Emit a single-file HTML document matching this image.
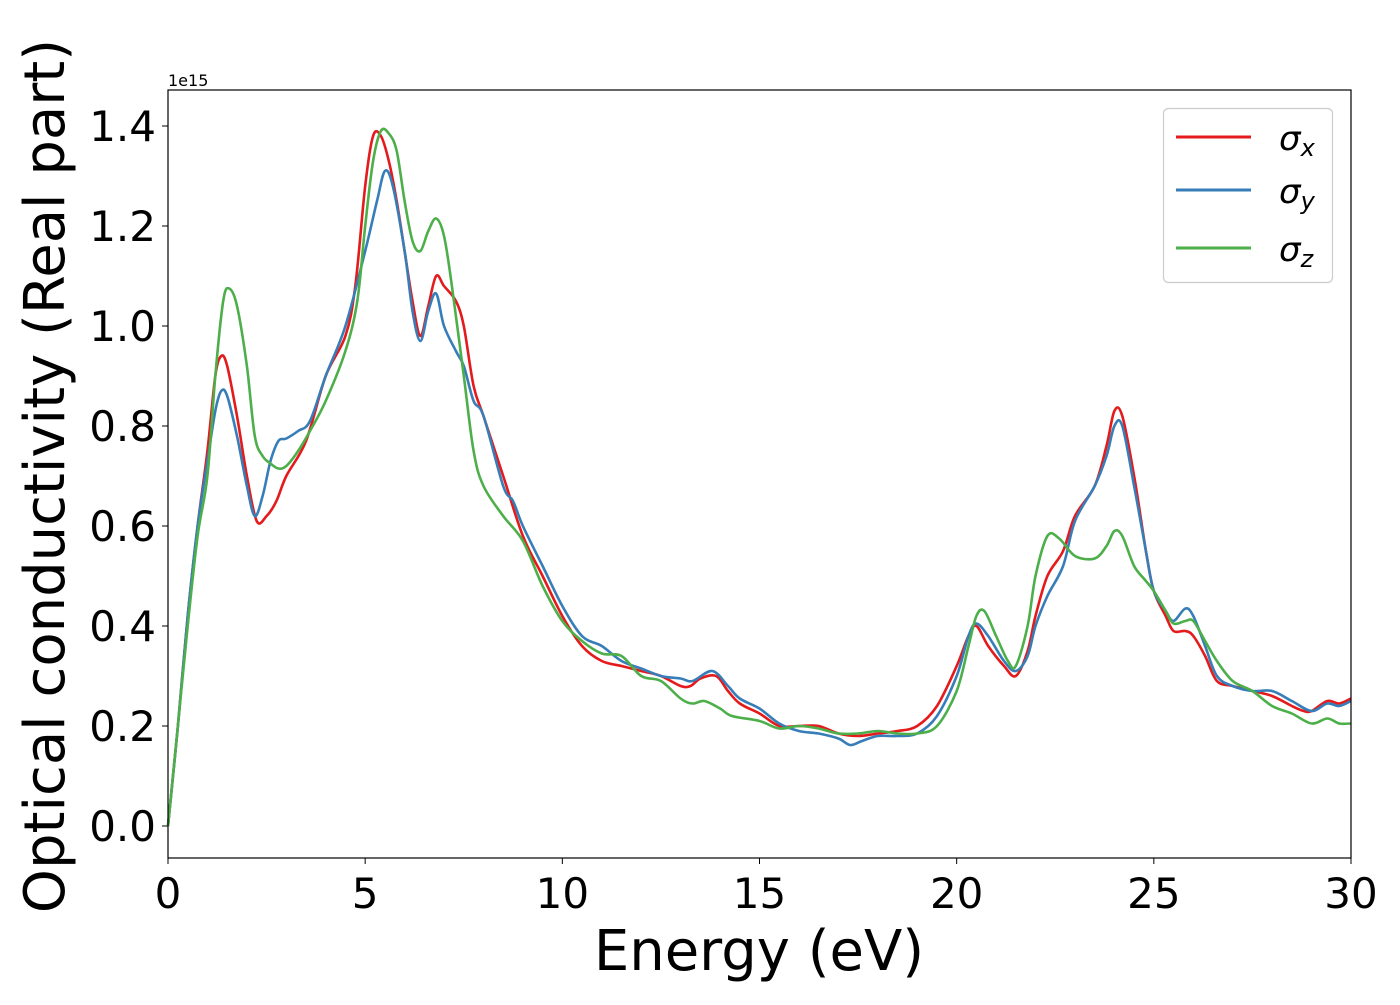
<!DOCTYPE html>
<html><head><meta charset="utf-8"><style>
html,body{margin:0;padding:0;background:#fff;}
svg text{font-family:"DejaVu Sans","Liberation Sans",sans-serif;}
</style></head><body>
<svg id="chart" width="1400" height="1000" xmlns="http://www.w3.org/2000/svg">
<g id="axes"></g>
<g id="series"></g>
<rect x="168" y="90" width="1183" height="768" fill="none" stroke="#000" stroke-width="1.2"/>
<text x="168" y="86" font-size="16">1e15</text>
<text x="759" y="970" font-size="56" text-anchor="middle">Energy (eV)</text>
<text transform="translate(64,476) rotate(-90)" font-size="56" text-anchor="middle">Optical conductivity (Real part)</text>
<g>
<rect x="1163.5" y="108.5" width="169" height="174" rx="5" fill="#fff" stroke="#ccc" stroke-width="1.2"/>
<line x1="1176" y1="137" x2="1251" y2="137" stroke="#e41a1c" stroke-width="3"/>
<text x="1279" y="150" font-size="34" font-style="italic">σ<tspan font-size="24" dy="6">x</tspan></text>
<line x1="1176" y1="190" x2="1251" y2="190" stroke="#377eb8" stroke-width="3"/>
<text x="1279" y="203" font-size="34" font-style="italic">σ<tspan font-size="24" dy="6">y</tspan></text>
<line x1="1176" y1="248" x2="1251" y2="248" stroke="#4daf4a" stroke-width="3"/>
<text x="1279" y="261" font-size="34" font-style="italic">σ<tspan font-size="24" dy="6">z</tspan></text>
</g>
</svg>
<script>
const xTicks=[0,5,10,15,20,25,30];
const yTicks=[0.0,0.2,0.4,0.6,0.8,1.0,1.2,1.4];
const xLabels=["0","5","10","15","20","25","30"];
const yLabels=["0.0","0.2","0.4","0.6","0.8","1.0","1.2","1.4"];
const sxE=[0,0.25,0.5,0.75,1.0,1.2,1.35,1.5,1.75,2.0,2.25,2.5,2.75,3.0,3.5,4.0,4.5,4.75,5.0,5.2,5.4,5.6,5.8,6.0,6.2,6.4,6.6,6.8,7.0,7.3,7.5,7.75,8.0,8.5,9.0,9.5,10.0,10.5,11.0,11.5,12.0,12.5,13.0,13.25,13.5,13.9,14.2,14.5,15.0,15.5,16.0,16.5,17.0,17.5,18.0,18.5,19.0,19.5,20.0,20.3,20.5,20.8,21.2,21.5,21.8,22.0,22.3,22.7,23.0,23.5,23.8,24.0,24.2,24.5,24.8,25.0,25.3,25.5,25.8,26.0,26.3,26.6,27.0,27.5,28.0,28.5,28.8,29.0,29.4,29.7,30];
const sxV=[0,0.2,0.42,0.6,0.75,0.9,0.94,0.92,0.82,0.7,0.61,0.62,0.65,0.7,0.77,0.9,0.98,1.08,1.28,1.38,1.38,1.33,1.25,1.15,1.05,0.98,1.04,1.10,1.08,1.05,1.0,0.88,0.82,0.7,0.58,0.5,0.42,0.36,0.33,0.32,0.31,0.3,0.28,0.28,0.295,0.3,0.27,0.245,0.225,0.2,0.2,0.2,0.185,0.18,0.185,0.19,0.2,0.24,0.32,0.38,0.4,0.36,0.32,0.3,0.35,0.42,0.5,0.55,0.62,0.68,0.76,0.83,0.82,0.7,0.55,0.47,0.42,0.39,0.39,0.38,0.34,0.29,0.28,0.27,0.26,0.24,0.23,0.23,0.25,0.245,0.255];
const syE=[0,0.25,0.5,0.75,1.0,1.2,1.35,1.5,1.75,2.0,2.2,2.4,2.6,2.8,3.0,3.3,3.6,4.0,4.5,5.0,5.3,5.5,5.7,6.0,6.2,6.4,6.6,6.8,7.0,7.3,7.5,7.75,8.0,8.5,8.75,9.0,9.5,10.0,10.5,11.0,11.5,12.0,12.5,13.0,13.3,13.8,14.2,14.5,15.0,15.5,16.0,16.5,17.0,17.3,17.6,18.0,18.5,19.0,19.5,20.0,20.3,20.5,20.8,21.2,21.5,21.8,22.0,22.3,22.7,23.0,23.5,23.8,24.0,24.2,24.5,24.8,25.0,25.3,25.5,25.8,26.0,26.3,26.6,27.0,27.5,28.0,28.5,29.0,29.4,29.7,30];
const syV=[0,0.2,0.42,0.6,0.73,0.83,0.87,0.86,0.78,0.68,0.62,0.66,0.73,0.77,0.775,0.79,0.81,0.9,1.0,1.15,1.25,1.31,1.28,1.15,1.03,0.97,1.03,1.065,1.0,0.95,0.92,0.85,0.82,0.68,0.65,0.6,0.52,0.44,0.38,0.36,0.33,0.315,0.3,0.295,0.29,0.31,0.28,0.255,0.235,0.205,0.19,0.185,0.175,0.162,0.17,0.18,0.18,0.185,0.22,0.3,0.38,0.405,0.38,0.33,0.31,0.34,0.4,0.46,0.52,0.61,0.68,0.74,0.8,0.8,0.68,0.55,0.47,0.43,0.41,0.435,0.42,0.36,0.3,0.28,0.27,0.27,0.25,0.23,0.245,0.24,0.25];
const szE=[0,0.25,0.5,0.75,1.0,1.2,1.4,1.55,1.75,2.0,2.2,2.4,2.6,2.8,3.0,3.3,3.6,4.0,4.5,4.8,5.0,5.2,5.4,5.6,5.8,6.0,6.2,6.4,6.6,6.8,7.0,7.2,7.5,7.75,8.0,8.5,9.0,9.5,10.0,10.5,11.0,11.5,12.0,12.5,13.0,13.3,13.6,14.0,14.3,15.0,15.5,16.0,16.5,17.0,17.5,18.0,18.5,19.0,19.5,20.0,20.3,20.5,20.7,21.0,21.3,21.5,21.8,22.0,22.3,22.6,23.0,23.5,23.8,24.0,24.2,24.5,24.8,25.0,25.3,25.5,25.8,26.0,26.3,26.6,27.0,27.5,28.0,28.5,29.0,29.4,29.7,30];
const szV=[0,0.2,0.4,0.58,0.7,0.9,1.05,1.075,1.04,0.92,0.78,0.74,0.725,0.715,0.72,0.75,0.79,0.85,0.95,1.05,1.2,1.33,1.39,1.385,1.35,1.25,1.17,1.15,1.19,1.215,1.18,1.08,0.9,0.75,0.68,0.62,0.57,0.48,0.41,0.37,0.345,0.34,0.3,0.29,0.255,0.245,0.25,0.235,0.22,0.21,0.195,0.2,0.195,0.185,0.185,0.19,0.185,0.185,0.2,0.27,0.36,0.42,0.43,0.38,0.33,0.32,0.4,0.5,0.58,0.575,0.54,0.535,0.56,0.59,0.58,0.52,0.49,0.47,0.43,0.405,0.41,0.41,0.37,0.33,0.29,0.27,0.24,0.225,0.205,0.215,0.205,0.205];
const NS="http://www.w3.org/2000/svg";
const X0=168,X1=1351,Y0=858,Y1=90,xmin=0,xmax=30,ymin=-0.064,ymax=1.472;
function xs(v){return X0+(v-xmin)/(xmax-xmin)*(X1-X0);}
function ys(v){return Y0-(v-ymin)/(ymax-ymin)*(Y0-Y1);}
const axes=document.getElementById('axes');
xTicks.forEach((t,i)=>{
 const l=document.createElementNS(NS,'line');
 
 
 l.setAttribute('x1',xs(t));l.setAttribute('x2',xs(t));l.setAttribute('y1',Y0);l.setAttribute('y2',Y0+6);l.setAttribute('stroke','#000');
 axes.appendChild(l);
 const tx=document.createElementNS(NS,'text');
 
 
 tx.setAttribute('x',xs(t));tx.setAttribute('y',Y0+50);tx.setAttribute('font-size','42');tx.setAttribute('text-anchor','middle');
 tx.textContent=xLabels[i];axes.appendChild(tx);
});
yTicks.forEach((t,i)=>{
 const l=document.createElementNS(NS,'line');
 
 
 l.setAttribute('x1',X0-6);l.setAttribute('x2',X0);l.setAttribute('y1',ys(t));l.setAttribute('y2',ys(t));l.setAttribute('stroke','#000');
 axes.appendChild(l);
 const tx=document.createElementNS(NS,'text');
 
 
 tx.setAttribute('x',X0-12);tx.setAttribute('y',ys(t)+15);tx.setAttribute('font-size','42');tx.setAttribute('text-anchor','end');
 tx.textContent=yLabels[i];axes.appendChild(tx);
});
function path(E,V){
 const p=E.map((e,i)=>[xs(e),ys(V[i])]);
 let d='M'+p[0][0].toFixed(1)+','+p[0][1].toFixed(1);
 for(let i=0;i<p.length-1;i++){
  const a=p[Math.max(0,i-1)],b=p[i],c=p[i+1],n=p[Math.min(p.length-1,i+2)];
  const c1=[b[0]+(c[0]-a[0])/6,b[1]+(c[1]-a[1])/6],c2=[c[0]-(n[0]-b[0])/6,c[1]-(n[1]-b[1])/6];
  d+=' C'+c1[0].toFixed(1)+','+c1[1].toFixed(1)+' '+c2[0].toFixed(1)+','+c2[1].toFixed(1)+' '+c[0].toFixed(1)+','+c[1].toFixed(1);
 }
 return d;
}
const g=document.getElementById('series');
[[sxE,sxV,'#e41a1c','series-sigma-x'],[syE,syV,'#377eb8','series-sigma-y'],[szE,szV,'#4daf4a','series-sigma-z']].forEach(s=>{
 const pa=document.createElementNS(NS,'path');
 
 
 pa.setAttribute('d',path(s[0],s[1]));pa.setAttribute('fill','none');pa.setAttribute('stroke',s[2]);pa.setAttribute('stroke-width','2.6');pa.setAttribute('stroke-linejoin','round');
 g.appendChild(pa);
});
</script>
</body></html>
